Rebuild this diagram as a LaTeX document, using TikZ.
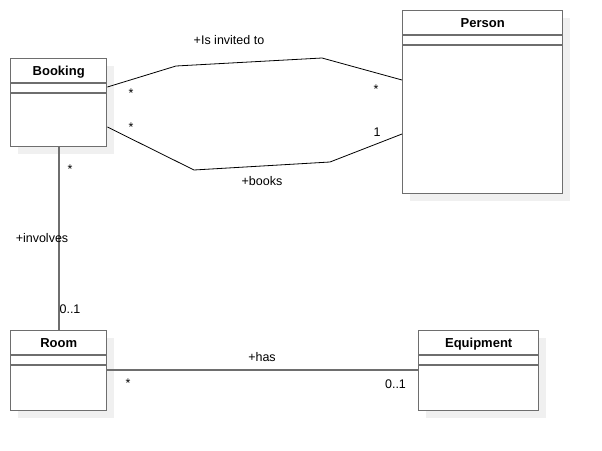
\documentclass[tikz,border=0pt]{standalone}
\usepackage{fontspec}
\setmainfont{Liberation Sans}
\usepackage{xcolor}
\definecolor{xgray}{HTML}{6E6E6E}
\usetikzlibrary{calc, shadows}
\tikzset{
  %% Styles %%
  umlclass/.style = {
    draw=xgray, line width=1.4pt, fill=white, inner sep=0pt, anchor=north west,
    drop shadow={shadow xshift=7pt, shadow yshift=-7pt, fill=black!6, opacity=1},
  },
  classname/.style = {font=\bfseries\fontsize{13}{15}\selectfont, inner sep=0pt, anchor=base},
  compline/.style = {draw=xgray, line width=1.4pt},
  assoc/.style = {draw=black, line width=0.8pt},
  assocgray/.style = {draw=xgray, line width=1.6pt},
  role/.style = {font=\fontsize{12.5}{15}\selectfont, inner sep=0pt, anchor=base},
}
\begin{document}
\begin{tikzpicture}[x=1pt, y=-1pt]
            \useasboundingbox (0,0) rectangle (602,450);
            % Classes
            \foreach \name/\title/\x/\y/\w/\h in {booking/Booking/10/58/96/88, person/Person/402/10/160/183, room/Room/10/330/96/80, equip/Equipment/418/330/120/80} {
                \node[umlclass, minimum width=\w pt, minimum height=\h pt] (\name) at (\x,\y) {};
                \node[classname] (\name-title) at ($(\name.north)+(0,17)$) {\title};
                \foreach \d in {25,35}
                    \draw[compline] ([yshift=-\d pt]\name.north west) -- ([yshift=-\d pt]\name.north east);
            }
            % Associations
            \draw[assoc] ([yshift=-29pt]booking.north east) -- (176,66) -- (322,58) -- ([yshift=-70pt]person.north west);
            \draw[assoc] ([yshift=-69pt]booking.north east) -- (194,170) -- (330,162) -- ([yshift=-124pt]person.north west);
            \draw[assocgray] (booking.south) -- (room.north);
            \draw[assocgray] ([yshift=-40pt]room.north east) -- ([yshift=-40pt]equip.north west);
            % Roles and multiplicities
            \node[role] (invited) at (229,44) {+Is invited to};
            \node[role] (m1) at (131,97) {*};
            \node[role] (m2) at (376,93) {*};
            \node[role] (m3) at (131,131) {*};
            \node[role] (m4) at (377,136) {1};
            \node[role] (books) at (262,185) {+books};
            \node[role] (m5) at (70,173) {*};
            \node[role] (involves) at (42,242) {+involves};
            \node[role] (m6) at (70,313) {0..1};
            \node[role] (has) at (262,361) {+has};
            \node[role] (m7) at (128,387) {*};
            \node[role] (m8) at (395.5,388) {0..1};
        \end{tikzpicture}
\end{document}
